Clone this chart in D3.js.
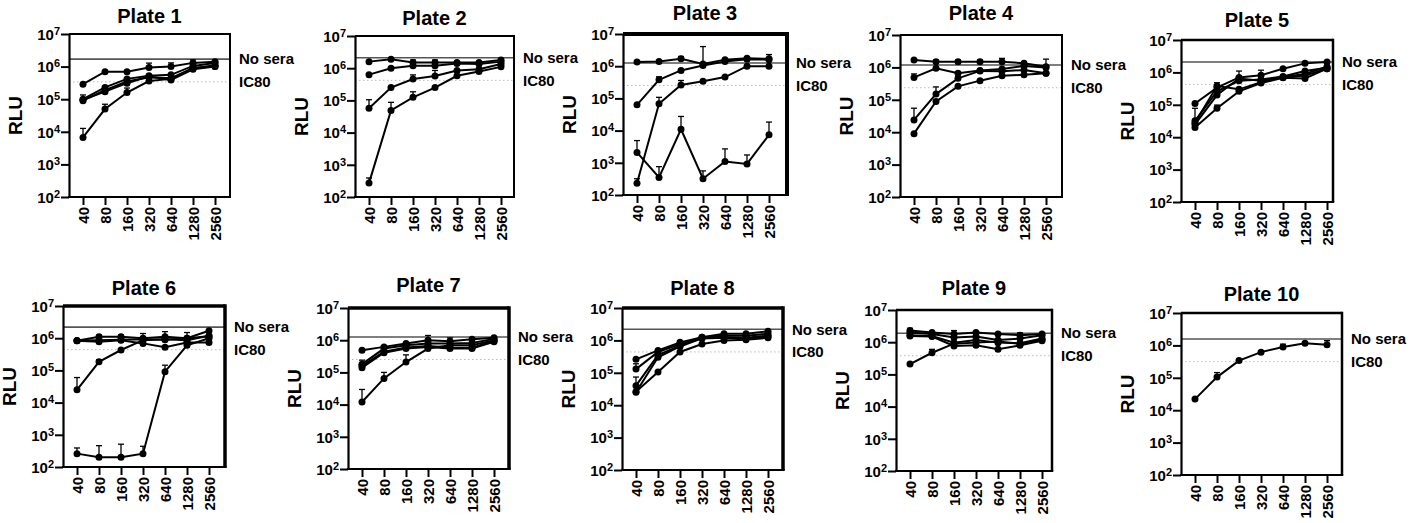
<!DOCTYPE html>
<html>
<head>
<meta charset="utf-8">
<script src="https://cdn.jsdelivr.net/npm/d3@7"></script>
<style>
  html, body { margin: 0; padding: 0; background: #fff; }
  svg { display: block; font-family: "Liberation Sans", Arial, sans-serif; font-weight: bold; }
</style>
</head>
<body>
<svg id="chart" width="1411" height="523"></svg>
<script>
// ---------- data ----------
const dilutions = [40, 80, 160, 320, 640, 1280, 2560];
const plateNames = ["Plate 1","Plate 2","Plate 3","Plate 4","Plate 5","Plate 6","Plate 7","Plate 8","Plate 9","Plate 10"];
const yTickExponents = [2, 3, 4, 5, 6, 7];
const noSera = [1.7e6, 2.1e6, 1.26e6, 1.18e6, 2.1e6, 2.2e6, 1.26e6, 2.2e6, 1.9e6, 1.58e6];
const ic80Fraction = 0.2;

const p1Values = [
  [2.9e5, 7e5, 7e5, 9.4e5, 1e6, 1.3e6, 1.4e6],
  [1e5, 2.3e5, 4.2e5, 5.2e5, 5.6e5, 1.05e6, 1.3e6],
  [9e4, 1.9e5, 3.5e5, 4.7e5, 4.4e5, 8.9e5, 1.1e6],
  [9.5e4, 1.7e5, 3.1e5, 5e5, 3.9e5, 8.3e5, 1e6],
  [6.7e3, 5e4, 1.6e5, 3.6e5, 4.2e5, 9e5, 1e6]
];
const p1Errors = [
  [0, 0, 0, 3.4e5, 3e5, 3e5, 0],
  [3.5e4, 0, 0, 0, 0, 0, 0],
  [0, 0, 0, 0, 0, 0, 0],
  [0, 0, 0, 0, 0, 0, 0],
  [6e3, 2e4, 6e4, 0, 0, 0, 0]
];
const p2Values = [
  [1.6e6, 1.9e6, 1.5e6, 1.5e6, 1.5e6, 1.5e6, 1.8e6],
  [6.3e5, 1e6, 1.2e6, 1.2e6, 1.4e6, 1.35e6, 1.6e6],
  [5.7e4, 2.5e5, 4.6e5, 5.7e5, 8.5e5, 9.3e5, 1.35e6],
  [2.7e2, 4.9e4, 1.25e5, 2.5e5, 5.8e5, 7.9e5, 1.1e6]
];
const p2Errors = [
  [0, 0, 3e5, 3e5, 0, 0, 0],
  [0, 0, 0, 0, 0, 0, 0],
  [4.8e4, 0, 1.6e5, 2.8e5, 0, 0, 0],
  [120, 3.8e4, 6e4, 0, 0, 0, 0]
];
const p3Values = [
  [1.35e6, 1.4e6, 1.7e6, 1.17e6, 1.6e6, 1.75e6, 1.7e6],
  [6.3e4, 3.8e5, 7.4e5, 1.05e6, 1.4e6, 1.65e6, 1.6e6],
  [2.3e2, 6.8e4, 2.6e5, 3.4e5, 4.6e5, 1e6, 1e6],
  [2.1e3, 3.5e2, 1.1e4, 3.2e2, 1.1e3, 920, 7.4e3]
];
const p3Errors = [
  [0, 0, 3e5, 2.9e6, 0, 2e5, 6e5],
  [0, 9e4, 0, 0, 0, 0, 0],
  [90, 4e4, 1e5, 0, 0, 0, 0],
  [2.8e3, 410, 1.65e4, 240, 1.6e3, 830, 1.1e4]
];
const p4Values = [
  [1.7e6, 1.5e6, 1.5e6, 1.5e6, 1.5e6, 1.35e6, 1.05e6],
  [4.9e5, 9.4e5, 6.6e5, 8e5, 9e5, 1.1e6, 1e6],
  [2.4e4, 1.5e5, 4.6e5, 7.8e5, 7.6e5, 8.3e5, 6.6e5],
  [9e3, 8.9e4, 2.6e5, 3.9e5, 5.5e5, 5.9e5, 6.6e5]
];
const p4Errors = [
  [0, 2e5, 2e5, 2e5, 4e5, 1.5e5, 7.5e5],
  [1.4e5, 0, 0, 0, 0, 0, 0],
  [3.1e4, 1e5, 0, 0, 0, 0, 0],
  [0, 0, 0, 0, 0, 0, 0]
];
const p5Values = [
  [1.1e5, 3.4e5, 7e5, 8.2e5, 1.3e6, 1.9e6, 2.1e6],
  [3.2e4, 2.6e5, 5.5e5, 6e5, 7.5e5, 1.1e6, 1.4e6],
  [2.5e4, 2e5, 6.5e5, 5.5e5, 7e5, 8e5, 1.3e6],
  [2e4, 7.8e4, 2.6e5, 4.7e5, 6.8e5, 6.5e5, 1.3e6],
  [2.8e4, 3.8e5, 3e5, 5e5, 7.2e5, 9e5, 1.5e6]
];
const p5Errors = [
  [0, 0, 4e5, 3.5e5, 0, 0, 0],
  [4.6e4, 0, 0, 0, 0, 0, 0],
  [0, 0, 0, 0, 0, 0, 0],
  [0, 2e4, 0, 0, 0, 0, 0],
  [0, 1e5, 0, 0, 0, 0, 0]
];
const p6Values = [
  [8.3e5, 1.1e6, 1.1e6, 1e6, 1.1e6, 1e6, 1.7e6],
  [8.3e5, 7.8e5, 8.7e5, 6.9e5, 5.2e5, 7.3e5, 7.3e5],
  [8.5e5, 8.7e5, 9e5, 9.3e5, 9e5, 1e6, 1.15e6],
  [2.5e4, 1.85e5, 4.3e5, 8.7e5, 9.3e5, 8.7e5, 1.2e6],
  [2.6e2, 2e2, 2e2, 2.6e2, 9.1e4, 6e5, 1e6]
];
const p6Errors = [
  [0, 1.5e5, 1.5e5, 4e5, 5e5, 5e5, 0],
  [0, 0, 0, 0, 0, 0, 0],
  [0, 0, 0, 0, 0, 0, 0],
  [3.5e4, 3e4, 0, 0, 0, 0, 0],
  [130, 260, 310, 180, 5.4e4, 0, 0]
];
const p7Values = [
  [4.9e5, 6.2e5, 7.9e5, 1e6, 9.3e5, 1.07e6, 1.2e6],
  [1.8e5, 5.5e5, 7e5, 7.9e5, 7.9e5, 8.2e5, 1.1e6],
  [1.6e5, 4.4e5, 5.9e5, 6.6e5, 5.9e5, 5.8e5, 9.5e5],
  [1.4e5, 4.1e5, 5.5e5, 6.2e5, 5.5e5, 5.5e5, 9e5],
  [1.2e4, 6.5e4, 2.1e5, 5.5e5, 7e5, 7e5, 1e6]
];
const p7Errors = [
  [0, 0, 0, 4e5, 2.5e5, 0, 0],
  [6e4, 0, 0, 0, 0, 0, 0],
  [0, 0, 0, 0, 0, 0, 0],
  [0, 0, 0, 0, 0, 0, 0],
  [1.75e4, 3.5e4, 1.4e5, 0, 0, 0, 0]
];
const p8Values = [
  [2.6e5, 4.9e5, 8.7e5, 1.26e6, 1.6e6, 1.6e6, 1.9e6],
  [1.3e5, 4.4e5, 7.7e5, 1.26e6, 1.4e6, 1.4e6, 1.6e6],
  [4e4, 3.5e5, 6.9e5, 1.2e6, 1.26e6, 1.2e6, 1.4e6],
  [2.6e4, 1.05e5, 4.4e5, 7.7e5, 1e6, 1.05e6, 1.2e6],
  [2.5e4, 3e5, 6.5e5, 1.15e6, 1.2e6, 1.15e6, 1.3e6]
];
const p8Errors = [
  [0, 0, 0, 0, 0, 0, 0],
  [6e4, 0, 0, 0, 0, 0, 0],
  [3.4e4, 0, 0, 0, 0, 0, 0],
  [0, 0, 0, 0, 0, 0, 0],
  [0, 0, 0, 0, 0, 0, 0]
];
const p9Values = [
  [2.3e6, 2e6, 1.8e6, 2e6, 1.8e6, 1.65e6, 1.8e6],
  [2e6, 1.8e6, 1.4e6, 1.5e6, 1.17e6, 1.3e6, 1.65e6],
  [1.65e6, 1.55e6, 9.7e5, 1.17e6, 9.7e5, 9.3e5, 1.3e6],
  [1.55e6, 1.5e6, 7.6e5, 8e5, 6e5, 8e5, 1.1e6],
  [2.1e5, 4.7e5, 9e5, 9.7e5, 1.05e6, 9e5, 1.2e6]
];
const p9Errors = [
  [4e5, 0, 5e5, 0, 0, 3e5, 0],
  [0, 0, 0, 0, 0, 0, 0],
  [0, 0, 0, 0, 0, 0, 0],
  [0, 0, 0, 0, 0, 0, 0],
  [2e4, 1.3e5, 0, 0, 0, 0, 0]
];
const p10Values = [
  [2.2e4, 1.05e5, 3.4e5, 6.2e5, 8.9e5, 1.17e6, 1.05e6]
];
const p10Errors = [
  [0, 4e4, 0, 0, 2e5, 0, 3.5e5]
];

const plateValues = [p1Values, p2Values, p3Values, p4Values, p5Values, p6Values, p7Values, p8Values, p9Values, p10Values];
const plateErrors = [p1Errors, p2Errors, p3Errors, p4Errors, p5Errors, p6Errors, p7Errors, p8Errors, p9Errors, p10Errors];

// ---------- layout (pixels) ----------
const layout = [
  {L: 69,   R: 230,  T: 34,  B: 197, titleY: 23,  frame: 2},
  {L: 355,  R: 514,  T: 36,  B: 197, titleY: 25,  frame: 2},
  {L: 623,  R: 787,  T: 34,  B: 195, titleY: 20,  frame: 4},
  {L: 900,  R: 1062, T: 35,  B: 197, titleY: 20,  frame: 2},
  {L: 1181, R: 1333, T: 40,  B: 202, titleY: 27,  frame: 2.5},
  {L: 63,   R: 225,  T: 306, B: 467, titleY: 295, frame: 3.5},
  {L: 348,  R: 509,  T: 308, B: 469, titleY: 292, frame: 3.5},
  {L: 622,  R: 783,  T: 308, B: 470, titleY: 295, frame: 3.5},
  {L: 896,  R: 1052, T: 310, B: 471, titleY: 295, frame: 2.5},
  {L: 1181, R: 1342, T: 313, B: 475, titleY: 301, frame: 2.5}
];

const FONT = '"Liberation Sans", Arial, sans-serif';
const svg = d3.select("#chart");

plateNames.forEach((name, i) => {
  const P = layout[i];
  const g = svg.append("g");
  const x = d3.scalePoint().domain(dilutions).range([P.L + 14, P.L + 146]);
  const y = d3.scaleLog().domain([1e2, 1e7]).range([P.B, P.T]);

  // reference lines
  const ns = noSera[i];
  g.append("line").attr("x1", P.L).attr("x2", P.R).attr("y1", y(ns)).attr("y2", y(ns))
    .attr("stroke", "#555").attr("stroke-width", 1.6);
  g.append("line").attr("x1", P.L).attr("x2", P.R).attr("y1", y(ns * ic80Fraction)).attr("y2", y(ns * ic80Fraction))
    .attr("stroke", "#bbb").attr("stroke-width", 1).attr("stroke-dasharray", "1.5,2.5");

  // frame top/right
  g.append("line").attr("x1", P.L).attr("x2", P.R).attr("y1", P.T).attr("y2", P.T)
    .attr("stroke", "#000").attr("stroke-width", P.frame);
  g.append("line").attr("x1", P.R).attr("x2", P.R).attr("y1", P.T - P.frame / 2).attr("y2", P.B)
    .attr("stroke", "#000").attr("stroke-width", P.frame);

  // y axis
  const ya = g.append("g").attr("transform", `translate(${P.L},0)`)
    .call(d3.axisLeft(y).tickValues(yTickExponents.map(e => Math.pow(10, e))).tickSize(8).tickSizeOuter(0).tickFormat(""));
  ya.attr("font-family", null).attr("font-size", null);
  ya.select(".domain").attr("stroke-width", 2.2);
  ya.selectAll(".tick line").attr("stroke-width", 2);
  ya.selectAll(".tick").each(function(d) {
    const t = d3.select(this).append("text")
      .attr("x", -9).attr("dy", "0.35em").attr("text-anchor", "end")
      .attr("fill", "#000").style("font-size", "15px").style("font-weight", "bold")
      .style("font-family", FONT);
    t.append("tspan").text("10");
    t.append("tspan").attr("dy", "-0.45em").style("font-size", "11px").text(Math.round(Math.log10(d)));
  });

  // x axis
  const xa = g.append("g").attr("transform", `translate(0,${P.B})`)
    .call(d3.axisBottom(x).tickSize(8).tickSizeOuter(0));
  xa.attr("font-family", null).attr("font-size", null);
  xa.select(".domain").remove();
  xa.selectAll(".tick line").attr("stroke-width", 2);
  xa.selectAll(".tick text")
    .attr("transform", "rotate(-90)").attr("x", -10).attr("y", 0).attr("dy", "0.36em")
    .attr("text-anchor", "end").attr("fill", "#000")
    .style("font-size", "15px").style("font-weight", "bold")
    .style("font-family", FONT);
  g.append("line").attr("x1", P.L - 1).attr("x2", P.R + P.frame / 2).attr("y1", P.B).attr("y2", P.B)
    .attr("stroke", "#000").attr("stroke-width", 2.2);

  // series
  const vals = plateValues[i];
  const errs = plateErrors[i];
  const line = d3.line().x((d, j) => x(dilutions[j])).y(d => y(d));
  vals.forEach((s) => {
    g.append("path").attr("d", line(s)).attr("fill", "none").attr("stroke", "#000").attr("stroke-width", 2);
  });
  vals.forEach((s, k) => {
    s.forEach((v, j) => {
      const e = errs[k][j];
      if (e > 0) {
        const cx = x(dilutions[j]);
        g.append("line").attr("x1", cx).attr("x2", cx).attr("y1", y(v)).attr("y2", y(v + e))
          .attr("stroke", "#000").attr("stroke-width", 1.3);
        g.append("line").attr("x1", cx - 3).attr("x2", cx + 3).attr("y1", y(v + e)).attr("y2", y(v + e))
          .attr("stroke", "#000").attr("stroke-width", 1.3);
      }
    });
  });
  vals.forEach((s) => {
    g.selectAll(null).data(s).enter().append("circle")
      .attr("cx", (d, j) => x(dilutions[j])).attr("cy", d => y(d)).attr("r", 3.5).attr("fill", "#000");
  });

  // labels
  g.append("text").attr("x", P.R + 9).attr("y", y(ns)).attr("dy", "0.35em")
    .style("font-size", "15px").text("No sera");
  g.append("text").attr("x", P.R + 9).attr("y", y(ns * ic80Fraction)).attr("dy", "0.35em")
    .style("font-size", "15px").text("IC80");
  g.append("text").attr("x", (P.L + P.R) / 2).attr("y", P.titleY).attr("text-anchor", "middle")
    .style("font-size", "20px").text(name);
  g.append("text").attr("transform", `translate(${P.L - 54},${(P.T + P.B) / 2}) rotate(-90)`)
    .attr("text-anchor", "middle").attr("dy", "0.35em").style("font-size", "19px").text("RLU");
});
</script>
</body>
</html>
